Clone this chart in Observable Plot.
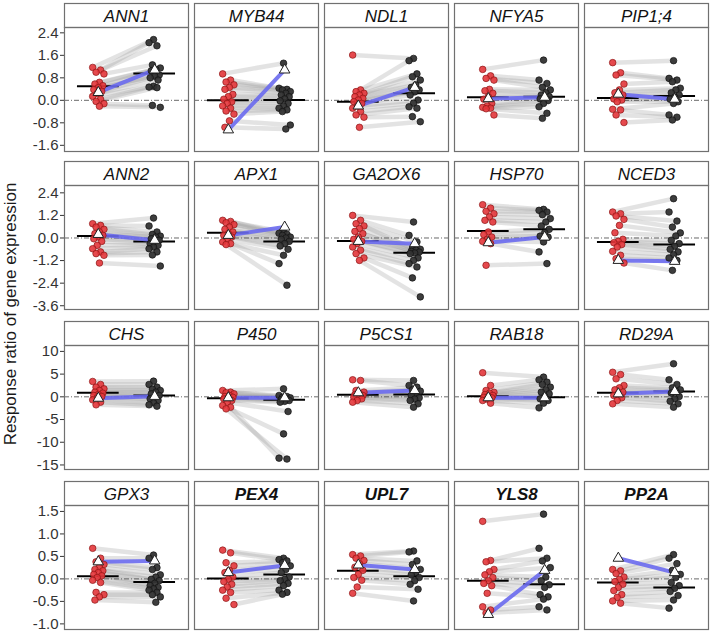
<!DOCTYPE html>
<html><head><meta charset="utf-8">
<script src="https://cdn.jsdelivr.net/npm/d3@7"></script>
<script src="https://cdn.jsdelivr.net/npm/@observablehq/plot@0.6"></script>
<style>
html,body{margin:0;padding:0;background:#fff;overflow:hidden;}
#chart{position:relative;width:711px;height:633px;font-family:"Liberation Sans",Arial,sans-serif;}
.row{position:absolute;left:0;}
#ylab{position:absolute;left:11px;top:314px;transform:translate(-50%,-50%) rotate(-90deg);white-space:nowrap;font-size:17px;color:#1a1a1a;z-index:5;}
</style></head><body>
<div id="chart"></div>
<script>
// ---- DATA ----
const rowGenes = [
  ["ANN1","MYB44","NDL1","NFYA5","PIP1;4"],
  ["ANN2","APX1","GA2OX6","HSP70","NCED3"],
  ["CHS","P450","P5CS1","RAB18","RD29A"],
  ["GPX3","PEX4","UPL7","YLS8","PP2A"]
];
const boldGenes = ["PEX4","UPL7","YLS8","PP2A"];
const genes = rowGenes.flat();

// red group (left), one list per gene in `genes` order
const redValues = [
  [1.17,1.08,1.0,0.94,0.64,0.58,0.52,0.45,0.38,0.32,0.24,0.14,0.04,-0.04,-0.12,-0.21],           // ANN1
  [0.94,0.72,0.65,0.55,0.46,0.39,0.21,0.13,0.04,-0.05,-0.11,-0.2,-0.28,-0.38,-0.49,-0.73,-0.96],  // MYB44
  [1.61,0.37,0.31,0.25,0.19,0.13,0.07,0.01,-0.05,-0.11,-0.2,-0.28,-0.4,-0.52,-0.6,-0.96],         // NDL1
  [1.1,0.87,0.78,0.72,0.39,0.34,0.25,0.13,0.04,-0.11,-0.2,-0.25,-0.28,-0.3,-0.52],                // NFYA5
  [1.34,0.98,0.9,0.58,0.37,0.27,0.19,0.11,0.05,0.01,-0.05,-0.32,-0.34,-0.52,-0.79],               // PIP1;4
  [0.76,0.67,0.58,0.46,0.32,0.23,0.14,0.05,-0.04,-0.18,-0.39,-0.57,-0.74,-0.83,-0.92,-1.33],      // ANN2
  [0.94,0.88,0.81,0.71,0.58,0.46,0.32,0.23,0.14,0.05,-0.07,-0.21,-0.3,-0.35],                     // APX1
  [1.2,0.94,0.76,0.64,0.5,0.35,0.23,0.05,-0.07,-0.18,-0.3,-0.48,-0.65,-0.83,-1.06,-1.19],         // GA2OX6
  [1.77,1.59,1.42,1.29,1.12,0.94,0.85,0.32,0.18,0.05,-0.07,-0.18,-0.3,-1.45],                     // HSP70
  [1.38,1.29,1.17,0.99,0.67,0.28,-0.07,-0.18,-0.25,-0.35,-0.48,-0.71,-0.92,-1.1,-1.33],           // NCED3
  [3.38,2.72,2.13,1.76,1.4,1.03,0.81,0.51,0.29,0.07,-0.22,-0.66,-1.18,-1.76],                     // CHS
  [1.4,1.03,0.9,0.66,0.29,0.07,-0.1,-0.22,-0.5,-0.81,-1.2,-1.91,-2.3,-2.65],                      // P450
  [3.75,3.6,1.4,1.03,0.66,0.5,0.29,0.1,-0.07,-0.44,-0.81,-1.18],                                  // P5CS1
  [5.3,2.5,1.4,1.0,0.81,0.51,0.3,0.07,-0.1,-0.22,-0.5,-0.81,-1.4],                                // RAB18
  [5.4,4.9,3.97,2.5,1.98,1.54,1.03,0.66,0.29,-0.22,-0.81,-1.54],                                  // RD29A
  [0.68,0.46,0.38,0.32,0.26,0.21,0.18,0.14,0.1,0.07,0.03,-0.03,-0.08,-0.3,-0.35,-0.4,-0.47],      // GPX3
  [0.64,0.58,0.36,0.29,0.19,0.14,0.04,-0.01,-0.06,-0.12,-0.18,-0.25,-0.3,-0.43,-0.57],            // PEX4
  [0.54,0.51,0.46,0.41,0.34,0.26,0.19,0.1,0.03,-0.03,-0.18,-0.32],                                // UPL7
  [1.28,0.41,0.38,0.21,0.16,0.09,0.03,-0.04,-0.1,-0.15,-0.32,-0.62,-0.69,-0.76],                  // YLS8
  [0.21,0.18,0.12,0.04,-0.01,-0.06,-0.12,-0.19,-0.26,-0.35,-0.41,-0.49,-0.54]                     // PP2A
];
// black group (right), paired with red values by position
const blackValues = [
  [2.16,2.05,1.94,1.26,1.15,1.1,1.05,0.9,0.86,0.8,0.72,0.5,0.47,0.45,-0.18,-0.25],
  [1.32,0.43,0.39,0.37,0.31,0.25,0.19,0.13,0.05,-0.02,-0.11,-0.2,-0.28,-0.34,-0.4,-0.88,-1.02],
  [1.49,1.41,0.94,0.84,0.72,0.55,0.46,0.37,0.3,0.19,0.01,-0.1,-0.23,-0.28,-0.58,-0.76],
  [1.43,0.72,0.6,0.46,0.37,0.27,0.19,0.13,0.09,0.05,-0.01,-0.11,-0.23,-0.46,-0.64],
  [1.41,0.78,0.72,0.66,0.43,0.37,0.27,0.19,0.11,0.04,-0.05,-0.11,-0.52,-0.6,-0.7],
  [1.06,0.64,0.32,0.19,0.1,0.05,-0.04,-0.12,-0.21,-0.3,-0.39,-0.48,-0.57,-0.74,-0.9,-1.49],
  [0.32,0.25,0.2,0.14,0.05,0.0,-0.07,-0.18,-0.3,-0.42,-0.6,-0.92,-1.36,-2.51],
  [0.85,0.14,-0.21,-0.57,-0.6,-0.65,-0.71,-0.75,-0.8,-0.83,-1.06,-1.19,-1.36,-1.54,-2.12,-3.13],
  [1.52,1.47,1.38,1.24,1.03,0.85,0.64,0.46,0.28,0.1,0.05,-0.21,-0.74,-1.36],
  [2.09,1.38,0.9,0.58,0.27,0.11,-0.12,-0.3,-0.44,-0.6,-0.74,-0.89,-1.06,-1.19,-1.72],
  [3.45,2.72,2.13,1.69,1.4,1.03,0.66,0.29,-0.07,-0.44,-0.81,-1.32,-1.76,-2.06],
  [1.76,0.3,0.07,-0.1,-0.22,-0.44,-0.6,-0.81,-1.0,-1.18,-3.23,-8.16,-13.5,-13.7],
  [3.6,2.5,2.13,1.54,1.25,0.81,0.29,-0.22,-0.5,-0.81,-1.54,-2.28],
  [4.34,3.75,3.23,2.72,2.13,1.54,1.03,0.66,0.07,-0.44,-0.81,-1.4,-2.43],
  [7.28,3.75,2.72,1.98,1.54,1.25,0.81,0.07,-0.44,-0.96,-1.54,-2.28],
  [0.53,0.46,0.25,0.21,0.09,0.04,-0.01,-0.04,-0.1,-0.15,-0.19,-0.22,-0.25,-0.3,-0.35,-0.4,-0.52],
  [0.46,0.43,0.4,0.36,0.29,0.21,0.14,0.04,-0.01,-0.04,-0.1,-0.15,-0.25,-0.3,-0.34],
  [0.62,0.6,0.4,0.32,0.21,0.14,0.09,0.03,-0.04,-0.12,-0.23,-0.49],
  [1.44,0.68,0.46,0.4,0.25,0.04,-0.04,-0.13,-0.19,-0.35,-0.4,-0.45,-0.62,-0.69],
  [0.54,0.46,0.34,0.19,0.1,0.03,-0.08,-0.15,-0.21,-0.28,-0.37,-0.47,-0.65]
];
// group centre lines (black bars)
const redCentre   = [0.5,0.0,-0.05,0.11,0.08, 0.11,0.28,-0.16,0.37,-0.21, 0.88,-0.29,0.44,0.15,0.88, 0.06,0.01,0.18,-0.04,-0.08];
const blackCentre = [0.95,0.01,0.25,0.13,0.15, -0.18,-0.18,-0.78,0.46,-0.35, 0.29,-0.66,0.51,-0.07,1.18, -0.07,0.1,0.06,-0.12,-0.19];
// triangles joined by the blue line
const redTriangle   = [0.28,-1.05,-0.2,0.06,0.22, 0.19,0.14,-0.18,-0.25,-1.19, -0.3,-0.2,0.9,-0.2,0.66, 0.38,0.14,0.31,-0.79,0.46];
const blackTriangle = [1.08,1.08,0.46,0.11,0.04, -0.12,0.58,-0.3,0.05,-1.24, 0.1,-0.2,1.4,-0.2,1.18, 0.4,0.3,0.21,0.19,0.14];
// y axes
const rowDomains = [[-1.82,2.59],[-3.8,2.79],[-16.0,11.3],[-1.125,1.632]];
const rowTicks = [
  [-1.6,-0.8,0,0.8,1.6,2.4],
  [-3.6,-2.4,-1.2,0,1.2,2.4],
  [-15,-10,-5,0,5,10],
  [-1.0,-0.5,0,0.5,1.0,1.5]
];
const rowDecimals = [1,1,0,1];
const yTitle = "Response ratio of gene expression";

// ---- LAYOUT / STYLE ----
const stripTops = [3,161,321,481];
const stripH = 24, panelH = 124, mt = 2, mb = 4;
const RED_FILL = "#e3363b", RED_STROKE = "#8c1515";
const BLK_FILL = "#333333", BLK_STROKE = "#111111";
const jit = (i, k) => (((i * 7 + k * 4) % 11) - 5) * 0.02;

const chart = document.getElementById("chart");

rowGenes.forEach((rg, r) => {
  const pts = [], links = [], centres = [], tris = [];
  rg.forEach(g => {
    const gi = genes.indexOf(g);
    const a = redValues[gi], b = blackValues[gi];
    a.forEach((v, i) => pts.push({gene: g, grp: 0, x: 1 + jit(i, 0), value: v}));
    b.forEach((v, i) => pts.push({gene: g, grp: 1, x: 2 + jit(i, 1), value: v}));
    const n = Math.min(a.length, b.length);
    for (let i = 0; i < n; i++) links.push({gene: g, x1: 1 + jit(i, 0), y1: a[i], x2: 2 + jit(i, 1), y2: b[i]});
    centres.push({gene: g, pos: 1, value: redCentre[gi]});
    centres.push({gene: g, pos: 2, value: blackCentre[gi]});
    tris.push({gene: g, pos: 1, value: redTriangle[gi]});
    tris.push({gene: g, pos: 2, value: blackTriangle[gi]});
  });
  const dec = rowDecimals[r];
  const plot = Plot.plot({
    width: 711,
    height: mt + stripH + panelH + mb,
    marginLeft: 63, marginRight: 3, marginTop: mt, marginBottom: mb,
    style: {fontFamily: '"Liberation Sans", Arial, sans-serif', fontSize: "15px", color: "#333", background: "transparent"},
    fx: {domain: rg, paddingInner: 0.048, paddingOuter: 0, axis: null, label: null},
    x: {domain: [0.4, 2.6], axis: null},
    y: {domain: rowDomains[r], range: [mt + stripH + panelH, mt + stripH], ticks: rowTicks[r],
        tickFormat: d => d.toFixed(dec), tickSize: 4, tickPadding: 2, label: null},
    marks: [
      Plot.link(links, {fx: "gene", x1: "x1", y1: "y1", x2: "x2", y2: "y2", stroke: "#999", strokeOpacity: 0.27, strokeWidth: 4.5}),
      Plot.ruleY([0], {stroke: "#444", strokeWidth: 0.8, strokeDasharray: "5,2,1,2"}),
      Plot.ruleY(centres, {fx: "gene", y: "value", x1: d => d.pos - 0.37, x2: d => d.pos + 0.37, stroke: "#000", strokeWidth: 2}),
      Plot.line(tris, {fx: "gene", x: "pos", y: "value", z: "gene", stroke: "#6a6aee", strokeOpacity: 0.9, strokeWidth: 4}),
      Plot.dot(pts.filter(d => d.grp === 0), {fx: "gene", x: "x", y: "value", r: 3.3, fill: RED_FILL, fillOpacity: 0.9, stroke: RED_STROKE, strokeWidth: 0.7}),
      Plot.dot(pts.filter(d => d.grp === 1), {fx: "gene", x: "x", y: "value", r: 3.3, fill: BLK_FILL, fillOpacity: 0.95, stroke: BLK_STROKE, strokeWidth: 0.7}),
      Plot.dot(tris, {fx: "gene", x: "pos", y: "value", symbol: "triangle", r: 3.9, fill: "white", stroke: "#222", strokeWidth: 1}),
      Plot.frame({stroke: "#707070", strokeWidth: 1.2, insetTop: stripH}),
      Plot.frame({stroke: "#707070", strokeWidth: 1.2, insetBottom: panelH}),
      Plot.text(rg.filter(g => !boldGenes.includes(g)), {fx: d => d, text: d => d, frameAnchor: "top", lineAnchor: "middle", dy: stripH / 2 + 1, fontSize: 17, fontStyle: "italic", fill: "#111"}),
      Plot.text(rg.filter(g => boldGenes.includes(g)), {fx: d => d, text: d => d, frameAnchor: "top", lineAnchor: "middle", dy: stripH / 2 + 1, fontSize: 17, fontStyle: "italic", fontWeight: "bold", fill: "#111"})
    ]
  });
  plot.classList.add("row");
  plot.style.top = (stripTops[r] - mt) + "px";
  chart.appendChild(plot);
});

const lab = document.createElement("div");
lab.id = "ylab";
lab.textContent = yTitle;
chart.appendChild(lab);
</script>
</body></html>
